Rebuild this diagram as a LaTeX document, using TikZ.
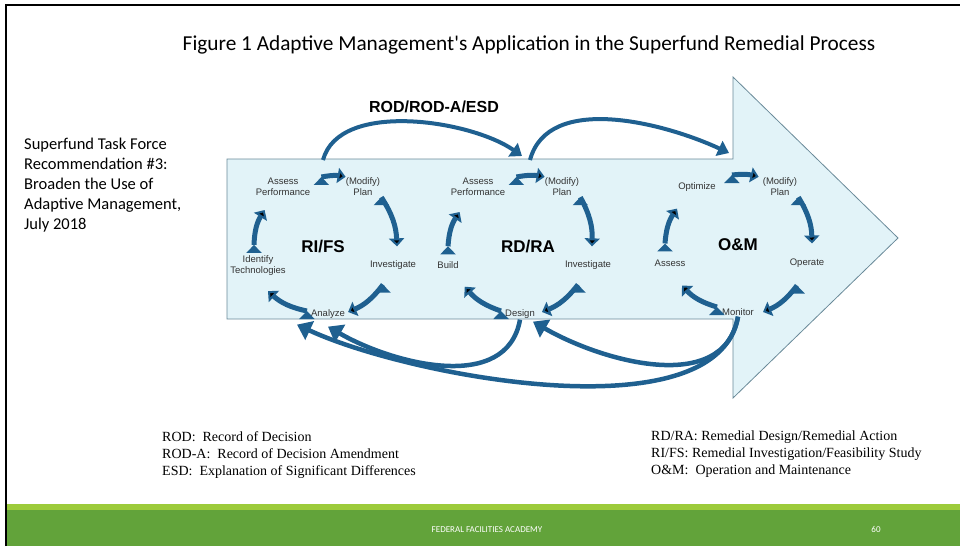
\documentclass[tikz,border=0pt]{standalone}
\usepackage{fontspec}
\setmainfont{Carlito}
\newfontfamily\sansf{Liberation Sans}
\newfontfamily\seriff{Liberation Serif}
\usetikzlibrary{arrows.meta}
\usetikzlibrary{calc}

\definecolor{arrowfill}{HTML}{E2F3F8}
\definecolor{arrowline}{HTML}{6A8A99}
\definecolor{flowblue}{HTML}{1F6090}
\definecolor{footdark}{HTML}{62A33A}
\definecolor{footlight}{HTML}{9CCB3B}

\tikzset{
	act/.style={font=\sansf\fontsize{9.5}{11}\selectfont,text=black!80,align=center,inner sep=1pt},
	phase/.style={font=\sansf\bfseries\fontsize{17}{20}\selectfont},
	cyc/.style={draw=flowblue,line width=5pt,-{Triangle[length=8pt,width=15pt]}},
	over/.style={draw=flowblue,line width=4pt,-{Triangle[length=11pt,width=16pt]}},
	feedback/.style={draw=flowblue,line width=4.5pt,-{Triangle[length=14pt,width=20pt]}},
	legend/.style={font=\seriff\fontsize{14}{17}\selectfont,align=left,inner sep=0pt}
}

\begin{document}
\begin{tikzpicture}[x=1pt,y=1pt]
	\useasboundingbox (0,0) rectangle (960,-546);
	% frame and footer
	\fill[footlight] (7,-504) rectangle (960,-510);
	\fill[footdark] (7,-510) rectangle (960,-546);
	\draw[line width=2pt] (6,-546) -- (6,-5) -- (960,-5);
	\draw (487,-530) node (foot) [text=white,font=\fontsize{9}{10}\selectfont] {FEDERAL FACILITIES ACADEMY};
	\draw (876,-529) node (page) [text=white,font=\fontsize{9}{10}\selectfont] {60};
	% title and side note
	\draw (529,-50) node (title) [anchor=base,font=\fontsize{21.3}{24}\selectfont] {Figure 1 Adaptive Management\textquotesingle s Application in the Superfund Remedial Process};
	\draw (24,-229) node (note) [anchor=base west,align=left,inner sep=0pt,font=\fontsize{16.5}{20}\selectfont] {Superfund Task Force\\Recommendation \#3:\\Broaden the Use of\\Adaptive Management,\\July 2018};
	% big process arrow
	\draw[fill=arrowfill,draw=arrowline,line width=0.8pt] (227,-159) -- (733,-159) -- (733,-77) -- (898,-238) -- (733,-398) -- (733,-319) -- (227,-319) -- cycle;
	% RI/FS
	\draw (323,-247) node (rifs) [phase] {RI/FS};
	\draw (283,-187) node (ap1) [act] {Assess\\Performance};
	\draw (363,-187) node (mp1) [act] {(Modify)\\Plan};
	\draw (393,-265) node (inv1) [act] {Investigate};
	\draw (328,-314) node (an1) [act] {Analyze};
	\draw (258,-266) node (idt) [act] {Identify\\Technologies};
	% RD/RA
	\draw (528,-247) node (rdra) [phase] {RD/RA};
	\draw (478,-187) node (ap2) [act] {Assess\\Performance};
	\draw (562,-187) node (mp2) [act] {(Modify)\\Plan};
	\draw (588,-265) node (inv2) [act] {Investigate};
	\draw (520,-314) node (des) [act] {Design};
	\draw (448,-265) node (bld) [act] {Build};
	% O&M
	\draw (738,-245) node (om) [phase] {O\&M};
	\draw (697,-187) node (opt) [act] {Optimize};
	\draw (780,-187) node (mp3) [act] {(Modify)\\Plan};
	\draw (807,-263) node (opr) [act] {Operate};
	\draw (738,-312) node (mon) [act] {Monitor};
	\draw (670,-263) node (ass) [act] {Assess};
	% cycle arrows
	\draw[cyc] ([xshift=10pt]ap1.north east) edge [bend left=10] ([xshift=1pt]mp1.north west);
	\draw[cyc] (mp1.south east) edge [bend left=15] ([xshift=4pt,yshift=13pt]inv1.north);
	\draw[cyc] ([xshift=-10pt,yshift=-14pt]inv1.south) edge [bend left=15] ([xshift=2pt,yshift=2pt]an1.east);
	\draw[cyc] ([xshift=-3pt,yshift=3pt]an1.west) edge [bend left=15] ([xshift=10pt,yshift=-14pt]idt.south);
	\draw[cyc] ([xshift=-4pt,yshift=10pt]idt.north) edge [bend left=15] ([xshift=10pt,yshift=-13pt]ap1.south west);
	\draw[cyc] ([xshift=10pt]ap2.north east) edge [bend left=10] ([xshift=1pt]mp2.north west);
	\draw[cyc] (mp2.south east) edge [bend left=15] ([xshift=4pt,yshift=13pt]inv2.north);
	\draw[cyc] ([xshift=-10pt,yshift=-14pt]inv2.south) edge [bend left=15] ([xshift=6pt,yshift=2pt]des.east);
	\draw[cyc] ([xshift=-3pt,yshift=3pt]des.west) edge [bend left=15] ([xshift=5pt,yshift=-17pt]bld.south east);
	\draw[cyc] ([yshift=14pt]bld.north) edge [bend left=15] ([xshift=10pt,yshift=-15pt]ap2.south west);
	\draw[cyc] ([xshift=15pt,yshift=12pt]opt.east) edge [bend left=10] ([xshift=-3pt]mp3.north west);
	\draw[cyc] (mp3.south east) edge [bend left=15] ([xshift=5pt,yshift=14pt]opr.north);
	\draw[cyc] ([xshift=-10pt,yshift=-17pt]opr.south) edge [bend left=15] ([xshift=8pt]mon.east);
	\draw[cyc] ([xshift=-4pt,yshift=5pt]mon.west) edge [bend left=15] ([xshift=12pt,yshift=-18pt]ass.south);
	\draw[cyc] ([xshift=-5pt,yshift=15pt]ass.north) edge [bend left=15] ([xshift=-20pt,yshift=-16pt]opt.south);
	% decision documents between phases
	\coordinate (t1) at (323,-160);
	\coordinate (t2) at (522,-156);
	\coordinate (t3) at (530,-160);
	\coordinate (t4) at (729,-153);
	\draw (434,-107) node (rod) [font=\sansf\bfseries\fontsize{16}{18}\selectfont] {ROD/ROD-A/ESD};
	\draw[over] (t1) to [out=75,in=145,looseness=0.8] (t2);
	\draw[over] (t3) to [out=75,in=155,looseness=0.9] (t4);
	% feedback loops
	\draw[feedback] (des.south) to [out=-100,in=-30] ([yshift=-7pt]an1.south);
	\draw[feedback] (mon.south) to [out=-100,in=-30] ([xshift=13pt,yshift=-2pt]des.south);
	\draw[feedback] (mon.south) to [out=-100,in=-25,looseness=0.7] ([xshift=-31pt,yshift=-5pt]an1.south);
	% legend
	\draw (162,-475) node (leg1) [legend,anchor=base west] {ROD:\ \ Record of Decision\\ROD-A:\ \ Record of Decision Amendment\\ESD:\ \ Explanation of Significant Differences};
	\draw (651,-474) node (leg2) [legend,anchor=base west] {RD/RA: Remedial Design/Remedial Action\\RI/FS: Remedial Investigation/Feasibility Study\\O\&M:\ \ Operation and Maintenance};
\end{tikzpicture}
\end{document}
